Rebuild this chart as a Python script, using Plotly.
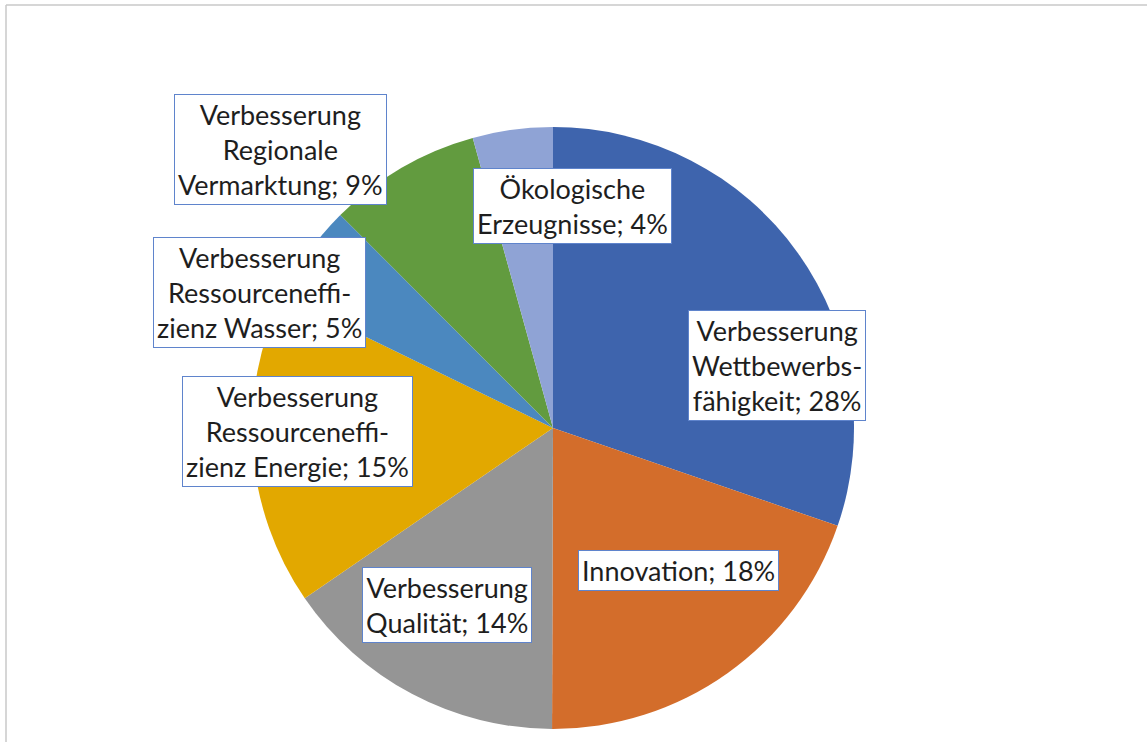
import plotly.graph_objects as go

# ---- data ----
categories = [
    "Verbesserung Wettbewerbsfähigkeit",
    "Innovation",
    "Verbesserung Qualität",
    "Verbesserung Ressourceneffizienz Energie",
    "Verbesserung Ressourceneffizienz Wasser",
    "Verbesserung Regionale Vermarktung",
    "Ökologische Erzeugnisse",
]
# slice sizes (share of the pie, %)
values = [30.3, 19.8, 15.4, 16.8, 5.3, 8.2, 4.3]
# percentages printed in the data labels
label_pct = [28, 18, 14, 15, 5, 9, 4]
label_names = [
    "Verbesserung<br>Wettbewerbs-<br>fähigkeit",
    "Innovation",
    "Verbesserung<br>Qualität",
    "Verbesserung<br>Ressourceneffi-<br>zienz Energie",
    "Verbesserung<br>Ressourceneffi-<br>zienz Wasser",
    "Verbesserung<br>Regionale<br>Vermarktung",
    "Ökologische<br>Erzeugnisse",
]

# ---- style ----
colors = ["#3E64AD", "#D36D2B", "#959595", "#E2A800", "#4B88BF", "#629B3F", "#8FA3D5"]
W, H = 1147, 742
# label box centres in pixels (layout only)
label_px = [(777, 365), (678, 570), (447, 605), (297, 431), (259, 292), (280, 150), (572, 206)]
FONT = "Lato"

fig = go.Figure()
fig.add_trace(go.Pie(
    labels=categories,
    values=values,
    sort=False,
    direction="clockwise",
    rotation=0,
    marker=dict(colors=colors, line=dict(width=0)),
    textinfo="none",
    hoverinfo="label",
    showlegend=False,
    domain=dict(x=[252 / W, 854 / W], y=[1 - 729 / H, 1 - 127 / H]),
))

for name, pct, (px, py) in zip(label_names, label_pct, label_px):
    fig.add_annotation(
        x=px / W, y=1 - py / H, xref="paper", yref="paper",
        text=f"{name}; {pct}%", showarrow=False, xanchor="center", yanchor="middle",
        font=dict(family=FONT, size=27, color="#1e1e1e"),
        bgcolor="white", bordercolor="#5F84CC", borderwidth=1, borderpad=3,
    )

# chart frame (top and left edges visible)
fig.add_shape(type="line", xref="paper", yref="paper",
              x0=6 / W, x1=1.05, y0=1 - 5 / H, y1=1 - 5 / H,
              line=dict(color="#C8C8C8", width=1.5))
fig.add_shape(type="line", xref="paper", yref="paper",
              x0=6 / W, x1=6 / W, y0=-0.05, y1=1 - 5 / H,
              line=dict(color="#C8C8C8", width=1.5))

fig.update_layout(
    width=W, height=H,
    margin=dict(l=0, r=0, t=0, b=0),
    paper_bgcolor="white", plot_bgcolor="white",
    font=dict(family=FONT),
)

fig.write_html("out.html", config={"displayModeBar": False},
               post_script="document.body.style.margin='0';")
